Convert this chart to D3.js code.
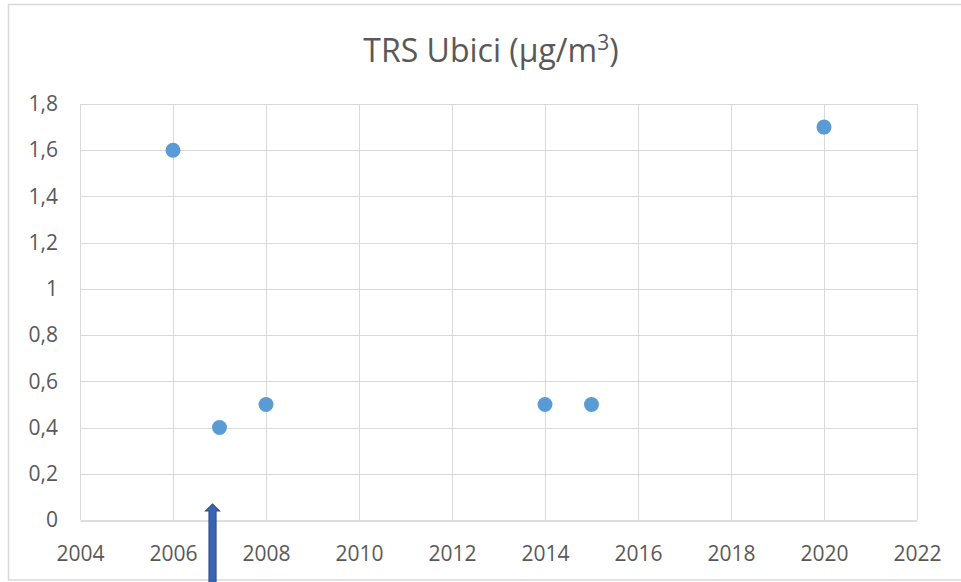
<!DOCTYPE html>
<html><head><meta charset="utf-8">
<script src="https://cdn.jsdelivr.net/npm/d3@7"></script>
<style>body{margin:0;background:#fff;}svg{display:block;}</style>
</head><body><svg id="c" width="961" height="582"></svg>
<script>
const years = [2006, 2007, 2008, 2014, 2015, 2020];
const values = [1.6, 0.4, 0.5, 0.5, 0.5, 1.7];
const xTicks = [2004, 2006, 2008, 2010, 2012, 2014, 2016, 2018, 2020, 2022];
const yTicks = [0, 0.2, 0.4, 0.6, 0.8, 1, 1.2, 1.4, 1.6, 1.8];
const arrowYear = 2006.85;

const svg = d3.select("#c");
const font = "'Open Sans', sans-serif";
svg.append("rect").attr("x", 8.5).attr("y", 4.5).attr("width", 970).attr("height", 575.5)
  .attr("fill", "#fff").attr("stroke", "#d9d9d9").attr("stroke-width", 1.5);

const x = d3.scaleLinear().domain([2004, 2022]).range([80, 917]);
const y = d3.scaleLinear().domain([0, 1.8]).range([520, 104]);

const g = svg.append("g");
g.selectAll("line.h").data(yTicks.filter(d => d > 0)).join("line")
  .attr("x1", x(2004)).attr("x2", x(2022))
  .attr("y1", d => Math.round(y(d)) + 0.5).attr("y2", d => Math.round(y(d)) + 0.5)
  .attr("stroke", "#d9d9d9").attr("stroke-width", 1);
g.selectAll("line.v").data(xTicks).join("line")
  .attr("y1", y(0)).attr("y2", y(1.8))
  .attr("x1", d => Math.round(x(d)) + 0.5).attr("x2", d => Math.round(x(d)) + 0.5)
  .attr("stroke", "#d9d9d9").attr("stroke-width", 1);

const xAxis = d3.axisBottom(x).tickValues(xTicks).tickSize(0).tickPadding(26).tickFormat(d3.format("d"));
const gx = svg.append("g").attr("transform", `translate(0,${Math.round(y(0)) + 0.5})`).call(xAxis);
gx.select(".domain").attr("stroke", "#bfbfbf");
gx.selectAll("text").attr("fill", "#595959").style("font-size", "21px").style("font-family", font);

const yAxis = d3.axisLeft(y).tickValues(yTicks).tickSize(0).tickPadding(22)
  .tickFormat(d => String(d).replace(".", ","));
const gy = svg.append("g").attr("transform", `translate(${x(2004)},0)`).call(yAxis);
gy.select(".domain").remove();
gy.selectAll("text").attr("fill", "#595959").style("font-size", "21px").style("font-family", font);

svg.append("g").selectAll("circle").data(years).join("circle")
  .attr("cx", (d) => x(d)).attr("cy", (d, i) => y(values[i])).attr("r", 7.5)
  .attr("fill", "#5b9bd5");

const t = svg.append("text").attr("x", 491).attr("y", 62).attr("text-anchor", "middle")
  .attr("fill", "#595959").style("font-size", "32px").style("font-family", font);
t.append("tspan").text("TRS Ubici (µg/m");
t.append("tspan").attr("dy", -12).style("font-size", "21px").text("3");
t.append("tspan").attr("dy", 12).text(")");

// arrow
const ax = x(arrowYear);
svg.append("path")
  .attr("d", `M${ax - 3.5},${583} L${ax - 3.5},${511} L${ax - 7},${511} L${ax},${504} L${ax + 7},${511} L${ax + 3.5},${511} L${ax + 3.5},${583} Z`)
  .attr("fill", "#3b64b3").attr("stroke", "#2f528f").attr("stroke-width", 1.2);
</script></body></html>
